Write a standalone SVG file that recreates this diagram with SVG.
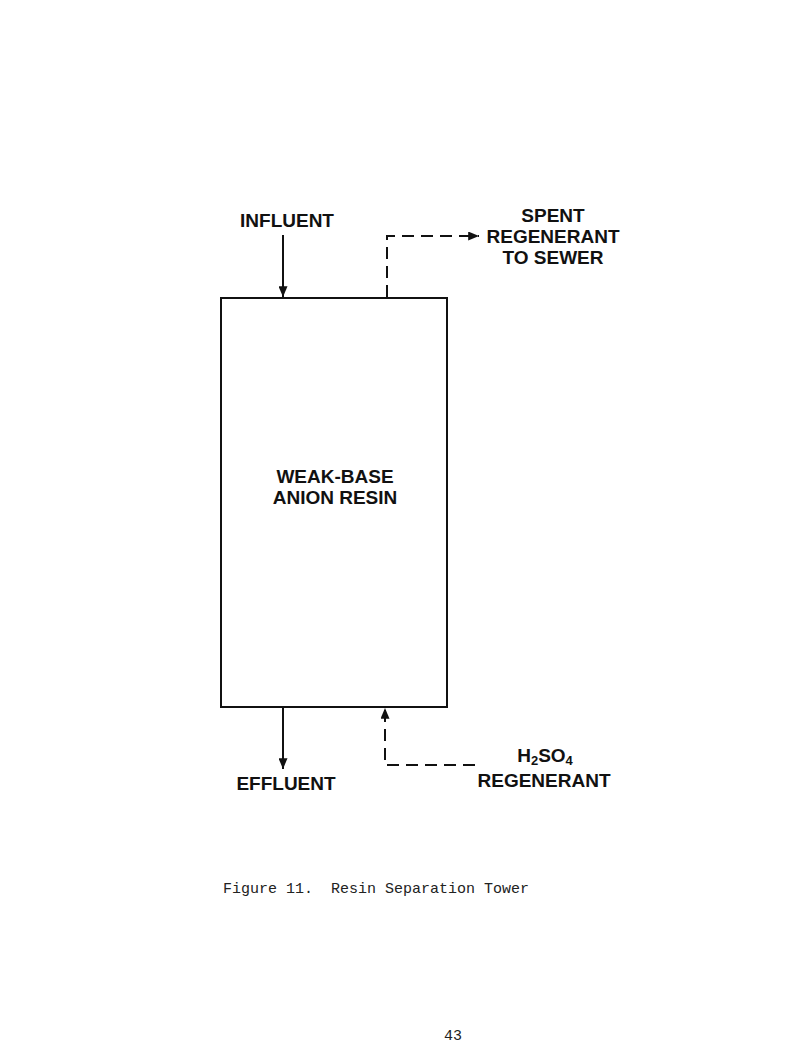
<svg xmlns="http://www.w3.org/2000/svg" width="811" height="1057" viewBox="0 0 811 1057">
<style>
.lbl{font-family:"Liberation Sans",Arial,sans-serif;font-weight:bold;font-size:19px;fill:#111;text-anchor:middle}
.mono{font-family:"Liberation Mono","Courier New",monospace;font-size:15px;fill:#222;white-space:pre}
.solid{stroke:#111;stroke-width:2;fill:none}
.dash{stroke:#111;stroke-width:2;fill:none;stroke-dasharray:12,7}
</style>
<defs>
<marker id="ah" viewBox="0 0 12 10" refX="12" refY="5" markerWidth="12" markerHeight="9" markerUnits="userSpaceOnUse" orient="auto">
<path d="M0,0 L12,5 L0,10 z" fill="#111"/>
</marker>
</defs>
<rect width="811" height="1057" fill="#fff"/>
<g id="tower">
<rect x="221" y="298" width="226" height="409" class="solid"/>
<text class="lbl" x="335" y="483">WEAK-BASE</text>
<text class="lbl" x="335" y="504">ANION RESIN</text>
</g>
<g id="influent">
<text class="lbl" x="287" y="227">INFLUENT</text>
</g>
<g id="spent">
<text class="lbl" x="553" y="222">SPENT</text>
<text class="lbl" x="553" y="243">REGENERANT</text>
<text class="lbl" x="553" y="264">TO SEWER</text>
</g>
<g id="effluent">
<text class="lbl" x="286" y="790">EFFLUENT</text>
</g>
<g id="h2so4">
<text class="lbl" x="545" y="762" font-size="18">H<tspan font-size="13" dy="3">2</tspan><tspan dy="-3">SO</tspan><tspan font-size="13" dy="3">4</tspan></text>
<text class="lbl" x="544" y="787">REGENERANT</text>
</g>
<g id="connectors">
<line x1="283" y1="235" x2="283" y2="297" class="solid" marker-end="url(#ah)"/>
<polyline points="387,297 387,236 479,236" class="dash" marker-end="url(#ah)"/>
<line x1="283" y1="708" x2="283" y2="769" class="solid" marker-end="url(#ah)"/>
<polyline points="475,765 385,765 385,708" class="dash" marker-end="url(#ah)"/>
</g>
<text class="mono" x="223" y="893" xml:space="preserve">Figure 11.  Resin Separation Tower</text>
<text class="mono" x="444" y="1040">43</text>
</svg>
